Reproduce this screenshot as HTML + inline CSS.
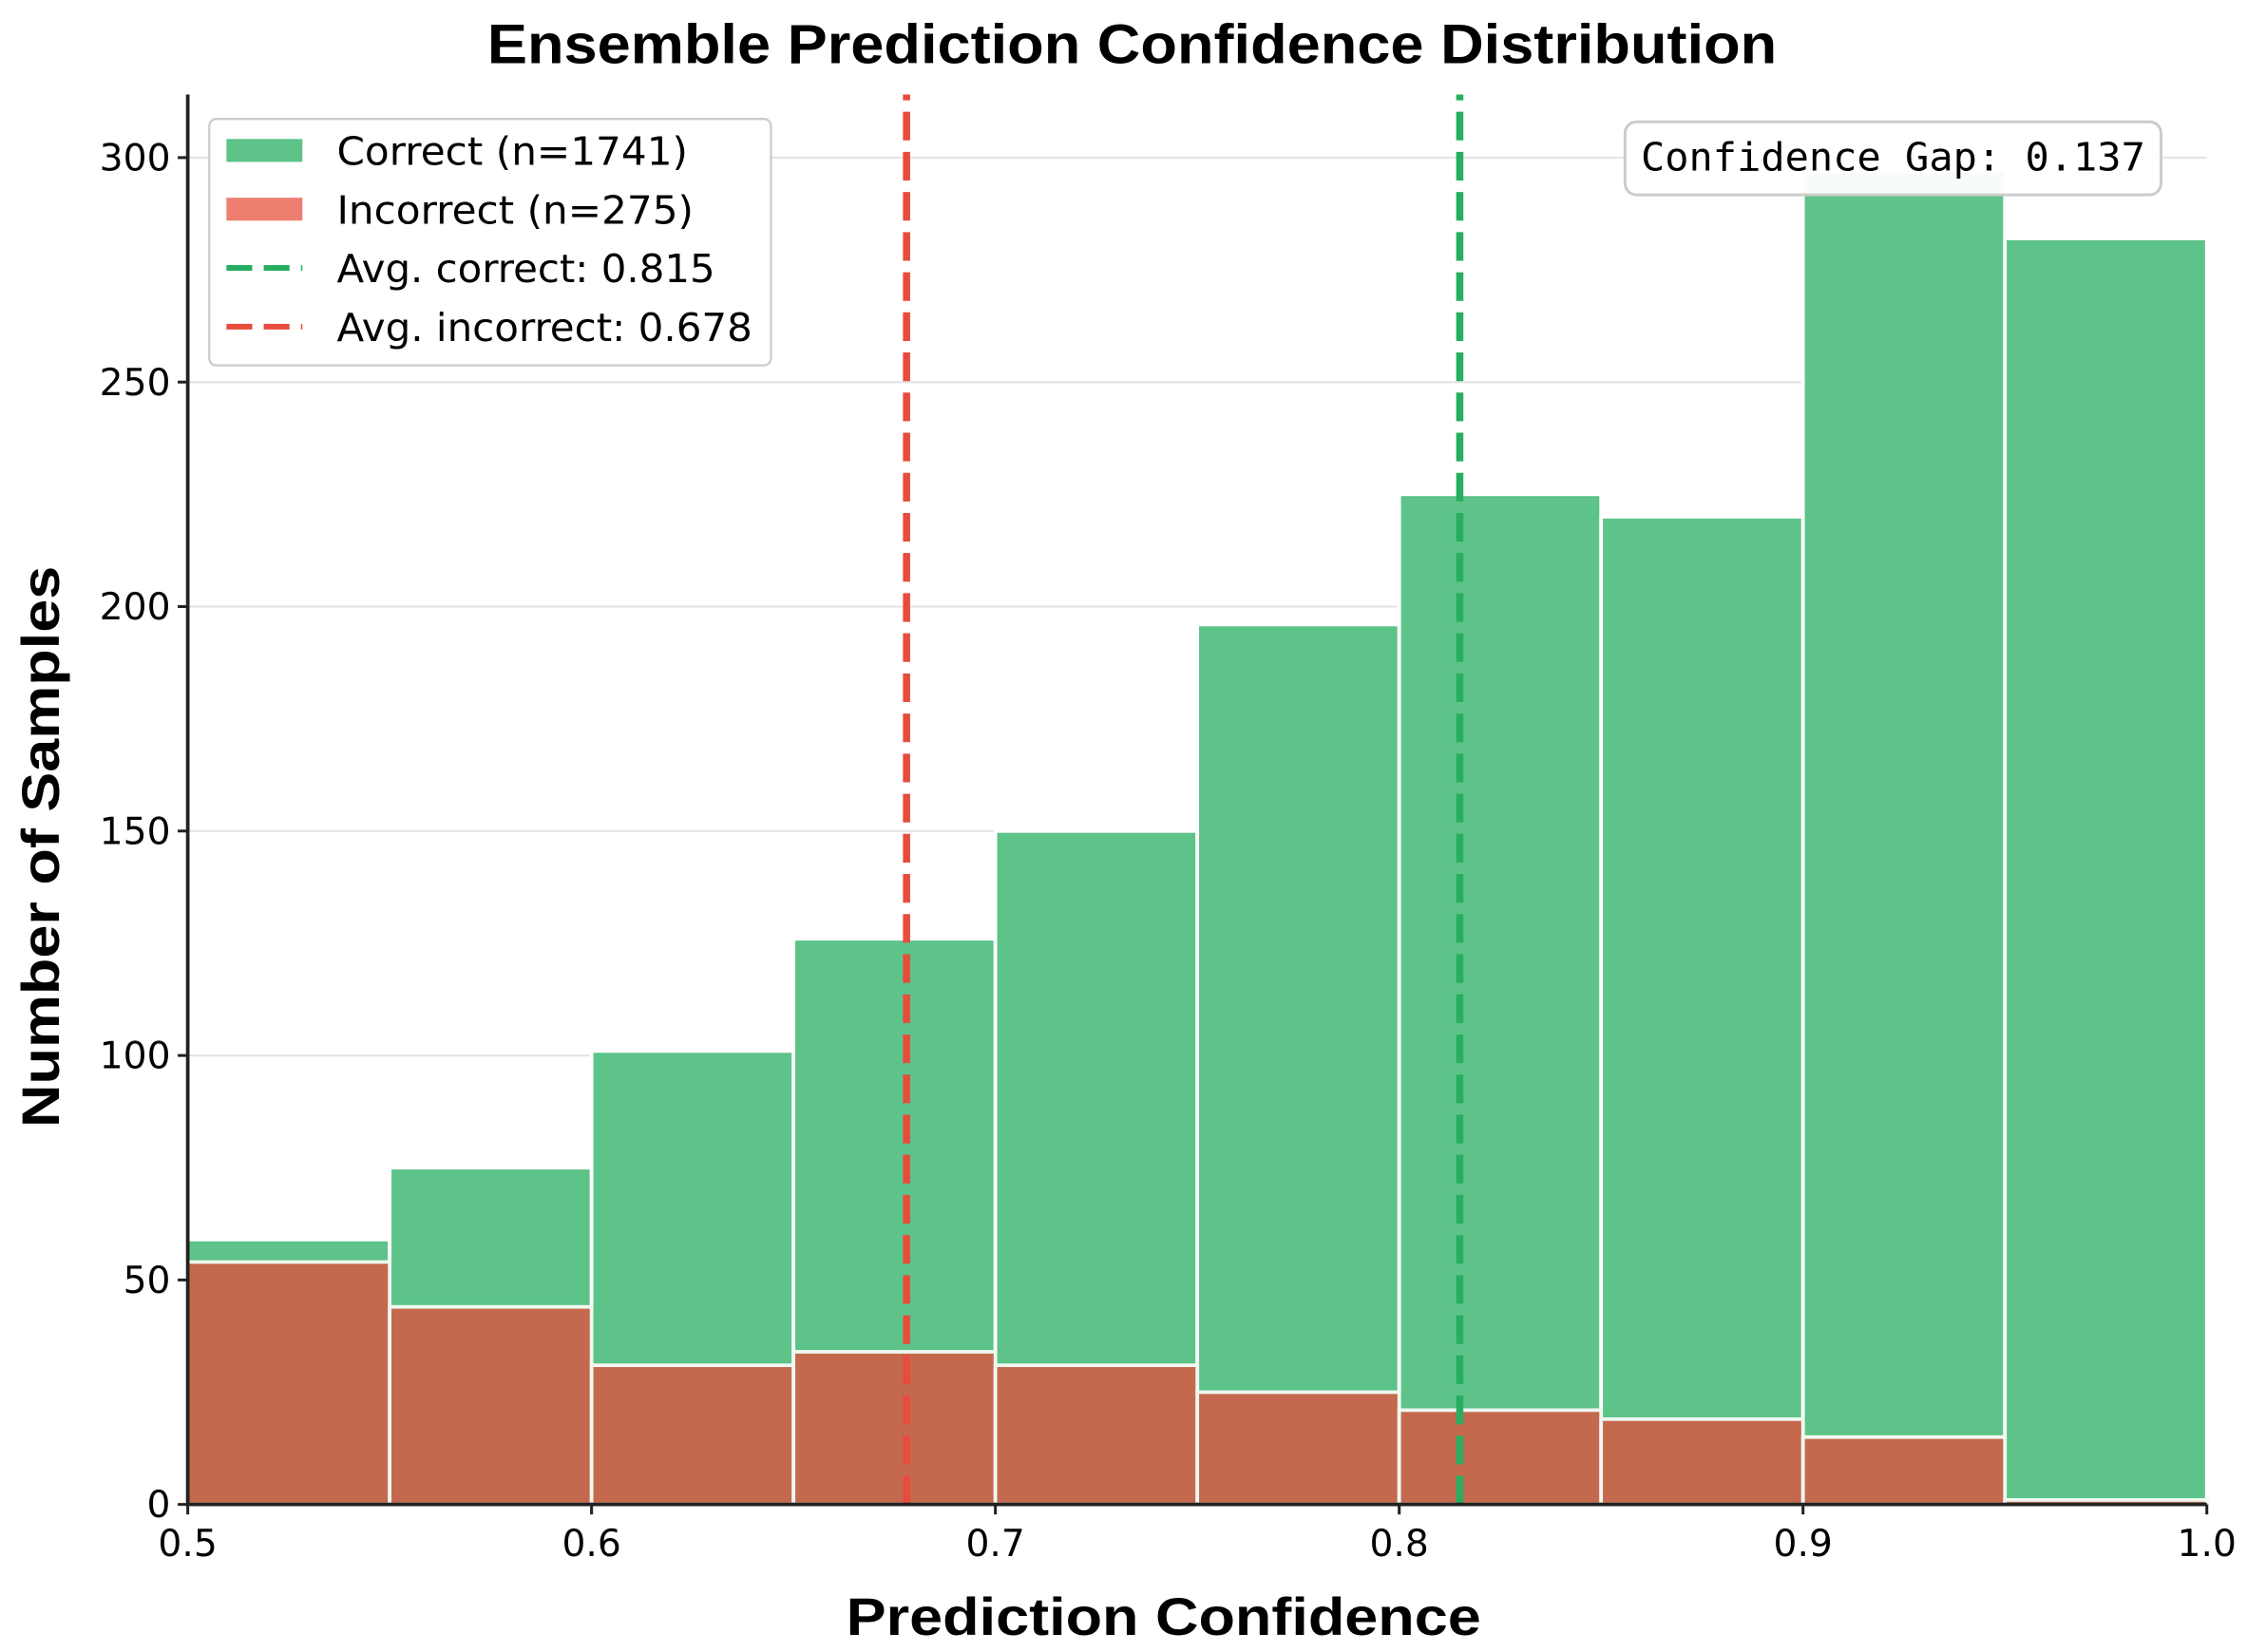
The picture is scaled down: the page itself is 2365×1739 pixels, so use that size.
<!DOCTYPE html>
<html><head><meta charset="utf-8"><style>html,body{margin:0;padding:0;background:#fff}svg{display:block}</style></head>
<body>
<svg id="chart" width="2365" height="1739" viewBox="0 0 1568 1153" xmlns="http://www.w3.org/2000/svg" font-family="'DejaVu Sans','Liberation Sans',sans-serif">
<rect width="1568" height="1153" fill="#fff"/>
<g id="grid"></g>
<g id="bars"></g>
<g id="lines"></g>
<g id="axes"></g>
<text x="790" y="44" text-anchor="middle" font-size="39" font-weight="bold" font-family="'Liberation Sans',sans-serif" textLength="900" lengthAdjust="spacingAndGlyphs">Ensemble Prediction Confidence Distribution</text>
<text x="812" y="1141" text-anchor="middle" font-size="37" font-weight="bold" font-family="'Liberation Sans',sans-serif" textLength="443" lengthAdjust="spacingAndGlyphs">Prediction Confidence</text>
<text transform="translate(41,591) rotate(-90)" text-anchor="middle" font-size="37" font-weight="bold" font-family="'Liberation Sans',sans-serif" textLength="392" lengthAdjust="spacingAndGlyphs">Number of Samples</text>
<g>
<rect x="146" y="83" width="392" height="172" rx="5" fill="#fff" fill-opacity="0.9" stroke="#ccc" stroke-width="1.5"/>
<rect x="158" y="97" width="53" height="16" fill="#5dc389"/>
<text x="235" y="115" font-size="27" textLength="245" lengthAdjust="spacingAndGlyphs">Correct (n=1741)</text>
<rect x="158" y="138" width="53" height="16" fill="#ee7f70"/>
<text x="235" y="156" font-size="27" textLength="249" lengthAdjust="spacingAndGlyphs">Incorrect (n=275)</text>
<line x1="158" y1="187" x2="211" y2="187" stroke="#27ae60" stroke-width="4" stroke-dasharray="18,8"/>
<text x="235" y="197" font-size="27" textLength="264" lengthAdjust="spacingAndGlyphs">Avg. correct: 0.815</text>
<line x1="158" y1="228" x2="211" y2="228" stroke="#e74c3c" stroke-width="4" stroke-dasharray="18,8"/>
<text x="235" y="238" font-size="27" textLength="290" lengthAdjust="spacingAndGlyphs">Avg. incorrect: 0.678</text>
</g>
<g>
<rect x="1134" y="85" width="374" height="51" rx="8" fill="#fff" fill-opacity="0.95" stroke="#ccc" stroke-width="2"/>
<text x="1321" y="119" text-anchor="middle" font-size="27" font-family="'DejaVu Sans Mono','Liberation Mono',monospace" textLength="352" lengthAdjust="spacingAndGlyphs">Confidence Gap: 0.137</text>
</g>
</svg>
<script>
const binEdges=[0.5,0.55,0.6,0.65,0.7,0.75,0.8,0.85,0.9,0.95,1.0];
const correctCounts=[59,75,101,126,150,196,225,220,297,282];
const incorrectCounts=[54,44,31,34,31,25,21,19,15,1];
const avgCorrect=0.815;
const avgIncorrect=0.678;
const yTicks=[0,50,100,150,200,250,300];
const xTicks=[0.5,0.6,0.7,0.8,0.9,1.0];
const NS='http://www.w3.org/2000/svg';
const X0=131,X1=1540,Y0=1050,YT=110;
const sx=v=>X0+(v-0.5)/0.5*(X1-X0);
const sy=v=>Y0-v/300*(Y0-YT);
function mk(t,a,p){const e=document.createElementNS(NS,t);for(const k in a)e.setAttribute(k,a[k]);document.getElementById(p).appendChild(e);return e;}
yTicks.forEach(v=>{if(v>0){const g=mk('line',{x1:X0,x2:X1,y1:sy(v),y2:sy(v),stroke:'#e5e5e5','stroke-width':1.5},'grid');

}});
correctCounts.forEach((c,i)=>{const x=sx(binEdges[i]),w=sx(binEdges[i+1])-x;
const r=mk('rect',{x:x,y:sy(c),width:w,height:Y0-sy(c),fill:'#5dc389',stroke:'#fff','stroke-width':2.5},'bars');

});
incorrectCounts.forEach((c,i)=>{const x=sx(binEdges[i]),w=sx(binEdges[i+1])-x;
const r=mk('rect',{x:x,y:sy(c),width:w,height:Y0-sy(c),fill:'#c4694e',stroke:'#f0f8f0','stroke-width':2.5},'bars');

});
const l1=mk('line',{x1:sx(avgIncorrect),x2:sx(avgIncorrect),y1:Y0,y2:66,stroke:'#e74c3c','stroke-width':5,'stroke-dasharray':'20,8'},'lines');


const l2=mk('line',{x1:sx(avgCorrect),x2:sx(avgCorrect),y1:Y0,y2:66,stroke:'#27ae60','stroke-width':5,'stroke-dasharray':'20,8'},'lines');


const ax=mk('line',{x1:X0,x2:X0,y1:66,y2:Y0+1,stroke:'#222','stroke-width':2.5},'axes');


const bx=mk('line',{x1:X0-1,x2:X1,y1:Y0,y2:Y0,stroke:'#222','stroke-width':2.5},'axes');


yTicks.forEach(v=>{mk('line',{x1:X0-7,x2:X0,y1:sy(v),y2:sy(v),stroke:'#222','stroke-width':2},'axes');
const t=mk('text',{x:X0-12,y:sy(v)+9,'text-anchor':'end','font-size':26},'axes');t.textContent=v;

});
xTicks.forEach(v=>{mk('line',{x1:sx(v),x2:sx(v),y1:Y0,y2:Y0+7,stroke:'#222','stroke-width':2},'axes');
const t=mk('text',{x:sx(v),y:Y0+36,'text-anchor':'middle','font-size':26},'axes');t.textContent=v.toFixed(1);

});
</script>
</body></html>
